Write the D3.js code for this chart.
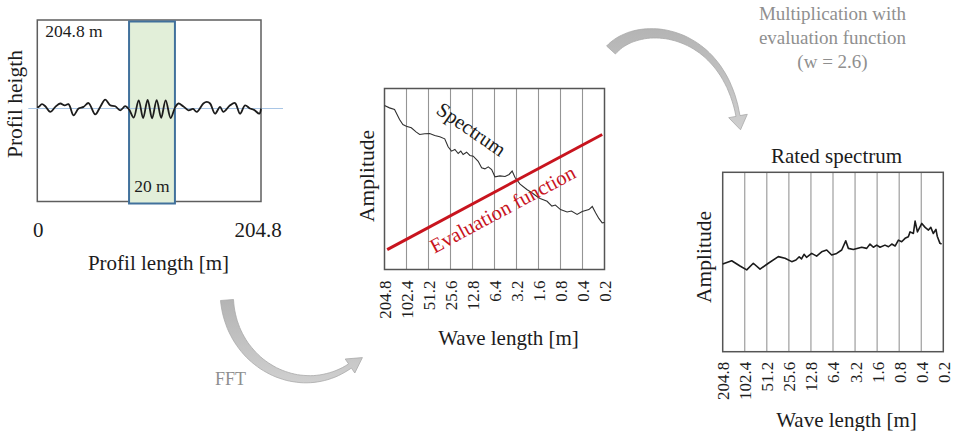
<!DOCTYPE html>
<html>
<head>
<meta charset="utf-8">
<script src="https://cdn.jsdelivr.net/npm/d3@7"></script>
<style>
  body { margin: 0; background: #fff; }
  svg { display: block; font-family: "Liberation Serif", "Times New Roman", serif; }
</style>
</head>
<body>
<svg id="fig" width="956" height="431"></svg>
<script>
// ---- Road profile (length in m, height in arbitrary units) ----
const profileLength = [0, 1.2, 4.3, 7.3, 11.9, 16.5, 21.0, 25.0, 28.6, 33.2, 37.8, 42.3, 46.9, 53.0,
  57.6, 62.2, 66.7, 71.3, 75.9, 80.5, 84.1, 88.2, 92.8, 96.9, 101.0, 105.1, 109.3, 113.4, 117.5,
  122.1, 126.2, 129.2, 133.5, 138.4, 142.6, 146.0, 152.0, 155.2, 158.2, 162.7, 167.3, 170.3, 176.5,
  181.0, 185.6, 190.2, 194.7, 198.4, 203.3, 204.8];
const profileHeight = [0.5, 0.7, 1.9, 1.0, -1.5, 0.7, 2.2, 1.4, 1.9, -3.0, 0.0, 0.7, 2.4, -2.6,
  0.7, 3.9, 1.4, 1.0, -0.8, 1.0, -0.5, -4.0, 3.6, -4.2, 3.8, -4.3, 3.7, -4.1, 3.6,
  -4.2, 0.5, 2.2, 1.0, -0.8, -0.2, -1.5, 2.2, 2.9, 2.2, -2.3, 0.7, -1.5, 1.4,
  2.4, -2.3, 1.4, 0.0, -0.6, -2.3, 0.0];
const profileTotal = 204.8;
const windowStart = 84;   // highlighted section of the profile [m]
const windowEnd = 126;

// ---- Wave length axis ----
const waveTicks = [204.8, 102.4, 51.2, 25.6, 12.8, 6.4, 3.2, 1.6, 0.8, 0.4, 0.2];

// ---- Amplitude spectrum ----
const spectrumWave = [204.8, 174.9, 149.2, 127.4, 114.8, 103.0, 88.0, 75.1, 67.6, 57.7, 49.3, 42.1,
  35.9, 30.7, 27.6, 24.8, 22.3, 20.1, 18.5, 17.2, 15.4, 13.9, 12.5, 10.7, 9.6, 8.65, 7.79, 7.00,
  6.31, 5.38, 4.59, 4.04, 3.67, 3.35, 2.86, 2.31, 1.97, 1.68, 1.52, 1.22, 1.05, 0.94, 0.80, 0.65,
  0.567, 0.474, 0.404, 0.327, 0.294, 0.265, 0.239, 0.215, 0.2];
const spectrumAmp = [90.6, 89.3, 88.4, 82.9, 80.1, 79.2, 78.3, 75.9, 74.6, 75.0, 75.1, 74.0,
  73.3, 72.2, 67.8, 65.4, 66.3, 64.1, 65.4, 63.5, 64.8, 63.0, 62.6, 59.8, 56.2, 55.6, 56.7, 55.2,
  51.2, 51.7, 51.4, 52.5, 54.4, 50.8, 47.2, 44.2, 42.4, 40.3, 39.2, 37.7, 35.0, 35.6, 33.1, 31.8,
  32.3, 30.4, 32.0, 33.1, 34.8, 31.3, 28.2, 25.8, 26.0];

// ---- Evaluation function (straight line on the log wave length axis) ----
const evalWave = [188, 0.215];
const evalAmp = [11.0, 74.6];

// ---- Rated spectrum ----
const ratedWave = [204.8, 154.4, 118.9, 96.3, 78.3, 63.4, 48.8, 35.7, 28.9, 23.4, 20.5, 18.5, 17.2,
  15.9, 14.7, 12.5, 10.7, 9.14, 7.80, 6.67, 5.70, 4.87, 4.29, 3.95, 3.38, 2.60, 2.22, 2.00, 1.80,
  1.62, 1.46, 1.25, 1.12, 1.01, 0.91, 0.82, 0.74, 0.665, 0.60, 0.568, 0.512, 0.485, 0.451, 0.393,
  0.354, 0.319, 0.296, 0.274, 0.252, 0.242, 0.222, 0.211];
const ratedAmp = [48.9, 50.7, 47.8, 45.6, 49.3, 46.0, 49.3, 53.0, 52.1, 50.2, 51.1, 52.9, 51.7,
  54.3, 52.6, 54.8, 53.3, 55.7, 56.7, 53.9, 54.8, 56.7, 61.8, 57.6, 57.0, 58.2, 57.6, 60.0, 58.2,
  59.4, 58.2, 59.4, 58.5, 60.0, 58.9, 62.2, 61.3, 63.2, 64.1, 66.8, 65.9, 72.8, 66.8, 71.5,
  69.3, 67.8, 69.3, 65.9, 68.2, 64.4, 60.4, 60.0];

const svg = d3.select("#fig");
const ink = "#1c1c1c";
const gray = "#8f8f8f";

// ================= Panel 1: profile =================
const p1 = { l: 37.3, r: 261, t: 20, b: 201.5 };
const xP = d3.scaleLinear().domain([0, profileTotal]).range([p1.l, p1.r]);
const yP = d3.scaleLinear().domain([-41, 39]).range([p1.b, p1.t]);

svg.append("rect")
  .attr("x", p1.l).attr("y", p1.t).attr("width", p1.r - p1.l).attr("height", p1.b - p1.t)
  .attr("fill", "none").attr("stroke", "#5e5e5e").attr("stroke-width", 1.5);

svg.append("rect")
  .attr("x", xP(windowStart)).attr("y", p1.t + 1.5)
  .attr("width", xP(windowEnd) - xP(windowStart)).attr("height", p1.b - p1.t + 0.5)
  .attr("fill", "#e2efd9").attr("stroke", "#41719c").attr("stroke-width", 2);

svg.append("line")
  .attr("x1", xP.range()[0] - 9).attr("x2", xP.range()[1] + 22)
  .attr("y1", yP(0)).attr("y2", yP(0))
  .attr("stroke", "#a9c6e6").attr("stroke-width", 1.2);

svg.append("path")
  .datum(profileLength.map((d, i) => [d, profileHeight[i]]))
  .attr("fill", "none").attr("stroke", ink).attr("stroke-width", 1.8)
  .attr("stroke-linejoin", "round")
  .attr("d", d3.line().curve(d3.curveCatmullRom.alpha(0.5)).x(d => xP(d[0])).y(d => yP(d[1])));

svg.append("text").attr("x", p1.l + 8).attr("y", 37).attr("font-size", 17.5).attr("fill", ink)
  .text(`${profileTotal} m`);
svg.append("text").attr("x", (xP(windowStart) + xP(windowEnd)) / 2).attr("y", 191.5)
  .attr("text-anchor", "middle").attr("font-size", 17.5).attr("fill", ink).text("20 m");

svg.append("text").attr("x", xP(0) + 1).attr("y", 237).attr("text-anchor", "middle")
  .attr("font-size", 21).attr("fill", ink).text("0");
svg.append("text").attr("x", xP(profileTotal) - 3).attr("y", 237).attr("text-anchor", "middle")
  .attr("font-size", 21).attr("fill", ink).text(profileTotal);
svg.append("text").attr("x", 158.5).attr("y", 270).attr("text-anchor", "middle")
  .attr("font-size", 21).attr("fill", ink).text("Profil length [m]");
svg.append("text").attr("transform", "translate(22,104) rotate(-90)").attr("text-anchor", "middle")
  .attr("font-size", 21.5).attr("fill", ink).text("Profil heigth");

// ================= shared helpers for the spectrum panels =================
function spectrumFrame(box, labelGap) {
  const x = d3.scaleLog().base(2).domain([204.8, 0.2]).range([box.l, box.r]);
  const y = d3.scaleLinear().domain([0, 100]).range([box.b, box.t]);
  const g = svg.append("g");
  g.selectAll("line.grid").data(waveTicks.slice(1, -1)).join("line")
    .attr("class", "grid")
    .attr("x1", d => x(d)).attr("x2", d => x(d))
    .attr("y1", box.t).attr("y2", box.b)
    .attr("stroke", "#959595").attr("stroke-width", 1.1);
  g.append("rect")
    .attr("x", box.l).attr("y", box.t).attr("width", box.r - box.l).attr("height", box.b - box.t)
    .attr("fill", "none").attr("stroke", "#555").attr("stroke-width", 1.5);
  const ax = svg.append("g").attr("transform", `translate(0,${box.b})`)
    .call(d3.axisBottom(x).tickValues(waveTicks).tickSize(0).tickFormat(d => String(d)));
  ax.select(".domain").remove();
  ax.attr("font-family", null).attr("font-size", null);
  ax.selectAll("text")
    .attr("transform", "rotate(-90)")
    .attr("text-anchor", "end")
    .attr("x", -labelGap).attr("y", 0).attr("dy", "0.35em")
    .attr("font-size", 17).attr("fill", ink);
  return { x, y };
}

// ================= Panel 2: spectrum + evaluation function =================
const p2 = { l: 384.5, r: 604.5, t: 88.5, b: 269.5 };
const s2 = spectrumFrame(p2, 11);

svg.append("path")
  .datum(spectrumWave.map((d, i) => [d, spectrumAmp[i]]))
  .attr("fill", "none").attr("stroke", "#303030").attr("stroke-width", 1.1)
  .attr("d", d3.line().x(d => s2.x(d[0])).y(d => s2.y(d[1])));

svg.append("path")
  .datum(evalWave.map((d, i) => [d, evalAmp[i]]))
  .attr("fill", "none").attr("stroke", "#c8141e").attr("stroke-width", 3)
  .attr("d", d3.line().x(d => s2.x(d[0])).y(d => s2.y(d[1])));

svg.append("text").attr("transform", "translate(471.5,129) rotate(34.5)")
  .attr("text-anchor", "middle").attr("dy", "0.35em").attr("font-size", 20.5).attr("fill", ink)
  .text("Spectrum");
svg.append("text").attr("transform", "translate(502.5,209) rotate(-28.2)")
  .attr("text-anchor", "middle").attr("dy", "0.35em").attr("font-size", 20.5).attr("fill", "#c8141e")
  .text("Evaluation function");

svg.append("text").attr("transform", "translate(374,176) rotate(-90)").attr("text-anchor", "middle")
  .attr("font-size", 21.5).attr("fill", ink).text("Amplitude");
svg.append("text").attr("x", 508.5).attr("y", 345).attr("text-anchor", "middle")
  .attr("font-size", 21).attr("fill", ink).text("Wave length [m]");

// ================= Panel 3: rated spectrum =================
const p3 = { l: 722.7, r: 943.3, t: 172.3, b: 351.7 };
const s3 = spectrumFrame(p3, 10);

svg.append("path")
  .datum(ratedWave.map((d, i) => [d, ratedAmp[i]]))
  .attr("fill", "none").attr("stroke", ink).attr("stroke-width", 1.6)
  .attr("stroke-linejoin", "round")
  .attr("d", d3.line().x(d => s3.x(d[0])).y(d => s3.y(d[1])));

svg.append("text").attr("x", 836.5).attr("y", 163).attr("text-anchor", "middle")
  .attr("font-size", 21).attr("fill", ink).text("Rated spectrum");
svg.append("text").attr("transform", "translate(711,257) rotate(-90)").attr("text-anchor", "middle")
  .attr("font-size", 21.5).attr("fill", ink).text("Amplitude");
svg.append("text").attr("x", 846.5).attr("y", 426.5).attr("text-anchor", "middle")
  .attr("font-size", 21).attr("fill", ink).text("Wave length [m]");

// ================= Process arrows =================
function bez(p, t) {
  const u = 1 - t;
  return [0, 1].map(k => u * u * u * p[0][k] + 3 * u * u * t * p[1][k] + 3 * u * t * t * p[2][k] + t * t * t * p[3][k]);
}
function bezD(p, t) {
  const u = 1 - t;
  return [0, 1].map(k => 3 * u * u * (p[1][k] - p[0][k]) + 6 * u * t * (p[2][k] - p[1][k]) + 3 * t * t * (p[3][k] - p[2][k]));
}
function arrowPath(p, w0, w1, headLen, headW) {
  const n = 48, left = [], right = [];
  for (let i = 0; i <= n; i++) {
    const t = i / n, pt = bez(p, t), d = bezD(p, t);
    const len = Math.hypot(d[0], d[1]), nx = -d[1] / len, ny = d[0] / len;
    const w = (w0 + (w1 - w0) * t) / 2;
    left.push([pt[0] + nx * w, pt[1] + ny * w]);
    right.push([pt[0] - nx * w, pt[1] - ny * w]);
  }
  const e = bez(p, 1), d = bezD(p, 1), len = Math.hypot(d[0], d[1]);
  const ux = d[0] / len, uy = d[1] / len, nx = -uy, ny = ux;
  const hl = [e[0] + nx * headW / 2, e[1] + ny * headW / 2];
  const hr = [e[0] - nx * headW / 2, e[1] - ny * headW / 2];
  const tip = [e[0] + ux * headLen, e[1] + uy * headLen];
  const pts = left.concat([hl, tip, hr], right.reverse());
  return "M" + pts.map(q => q[0].toFixed(1) + "," + q[1].toFixed(1)).join("L") + "Z";
}

const defs = svg.append("defs");
const grad = defs.append("linearGradient").attr("id", "arrowShade")
  .attr("x1", "0").attr("y1", "0").attr("x2", "0").attr("y2", "1");
grad.append("stop").attr("offset", "0%").attr("stop-color", "#b4b4b4");
grad.append("stop").attr("offset", "100%").attr("stop-color", "#cfcfcf");

svg.append("path")
  .attr("d", arrowPath([[227, 300], [232, 365], [300, 400], [350, 366]], 13, 5, 15, 17))
  .attr("fill", "url(#arrowShade)").attr("stroke", "#a9a9a9").attr("stroke-width", 0.8);
svg.append("path")
  .attr("d", arrowPath([[611, 50], [640, 18], [722, 28], [738, 116]], 12, 4, 14, 19))
  .attr("fill", "url(#arrowShade)").attr("stroke", "#a9a9a9").attr("stroke-width", 0.8);

svg.append("text").attr("x", 215).attr("y", 385).attr("font-size", 18).attr("fill", gray).text("FFT");
const note = svg.append("text").attr("x", 832.5).attr("y", 19.5).attr("text-anchor", "middle")
  .attr("font-size", 19).attr("fill", gray);
["Multiplication with", "evaluation function", "(w = 2.6)"].forEach((s, i) =>
  note.append("tspan").attr("x", 832.5).attr("dy", i ? 24 : 0).text(s));
</script>
</body>
</html>
